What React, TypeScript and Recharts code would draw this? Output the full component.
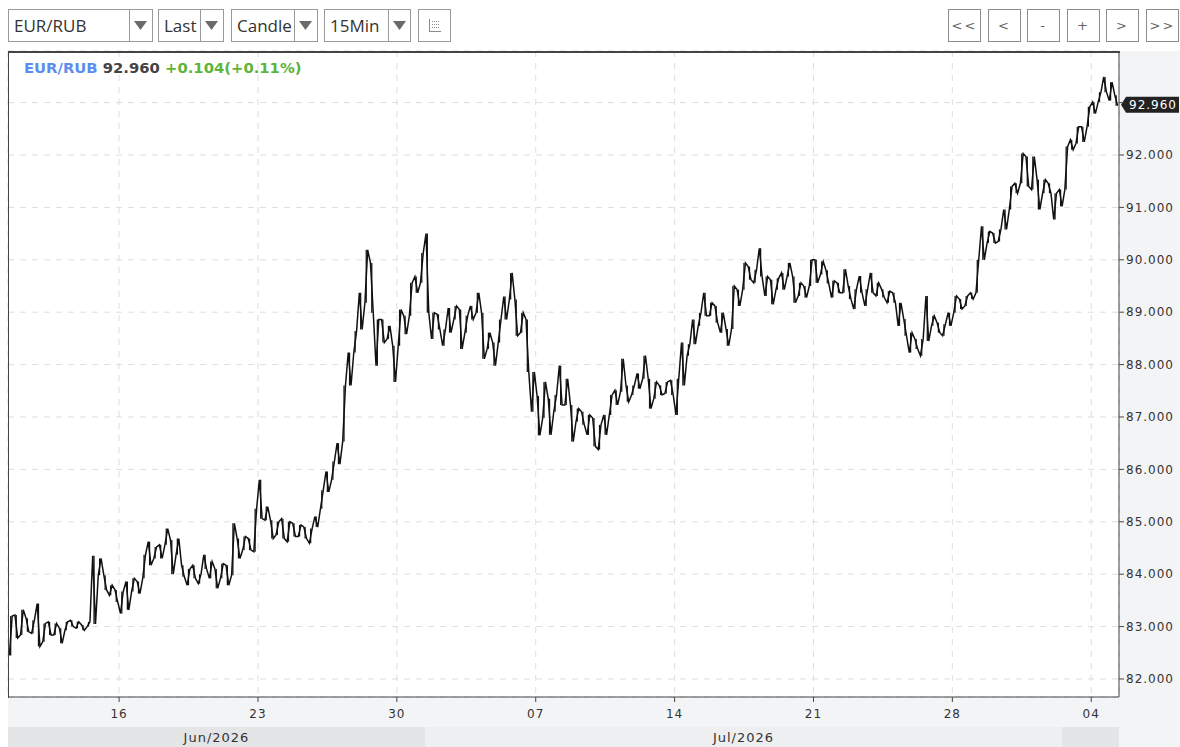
import React from 'react'
import {
  ComposedChart, Line, Bar, XAxis, YAxis, CartesianGrid, ReferenceLine,
} from 'recharts'

const highs = [
  83.2, 83.22, 83.32, 83.16, 83.12, 83.44, 83.06, 83.09, 83.06, 82.97,
  83.09, 83.12, 83.09, 83.03, 83.09, 84.35, 84.3, 83.98, 83.79, 83.7,
  83.67, 83.86, 83.92, 83.86, 84.37, 84.62, 84.52, 84.56, 84.87, 84.65,
  84.68, 84.17, 84.1, 84.17, 84.0, 84.37, 84.24, 84.1, 84.2, 84.17,
  84.97, 84.68, 84.72, 84.68, 85.25, 85.8, 85.29, 85.03, 85.0, 85.06,
  85.0, 84.97, 84.94, 84.9, 84.87, 85.1, 85.6, 85.96, 86.15, 86.5,
  87.6, 88.23, 88.64, 89.37, 90.19, 89.94, 88.86, 88.86, 88.74, 88.36,
  89.05, 88.93, 89.56, 89.68, 90.13, 90.5, 88.99, 88.96, 88.67, 89.08,
  89.12, 89.05, 88.93, 89.12, 89.37, 88.99, 88.61, 88.42, 88.86, 89.3,
  89.75, 89.24, 88.99, 88.86, 87.86, 87.4, 87.67, 87.35, 87.42, 87.98,
  87.73, 87.23, 87.16, 87.1, 87.04, 86.98, 86.85, 87.04, 87.42, 87.51,
  88.11, 87.6, 87.6, 87.83, 88.17, 87.73, 87.67, 87.6, 87.67, 87.7,
  87.73, 88.42, 88.39, 88.86, 88.99, 89.37, 89.18, 89.12, 88.99, 88.68,
  89.5, 89.43, 89.94, 89.87, 89.81, 90.22, 89.68, 89.62, 89.65, 89.75,
  89.94, 89.68, 89.56, 89.5, 90.0, 90.0, 89.97, 89.8, 89.6, 89.56,
  89.82, 89.5, 89.44, 89.69, 89.44, 89.75, 89.56, 89.44, 89.4, 89.37,
  89.18, 88.87, 88.61, 88.49, 88.49, 89.31, 88.93, 88.8, 88.77, 88.99,
  89.31, 89.25, 89.31, 89.37, 90.0, 90.64, 90.54, 90.51, 90.58, 90.96,
  91.4, 91.46, 92.03, 91.97, 91.97, 91.53, 91.53, 91.46, 91.27, 91.34,
  92.16, 92.29, 92.54, 92.54, 92.92, 93.01, 93.2, 93.49, 93.39, 93.14,
]
const lows = [
  82.45, 82.78, 82.84, 82.9, 82.87, 82.62, 82.71, 82.84, 82.84, 82.68,
  82.93, 83.0, 82.97, 82.93, 83.0, 83.05, 83.98, 83.7, 83.6, 83.47,
  83.25, 83.32, 83.67, 83.63, 83.92, 84.17, 84.3, 84.3, 84.56, 84.0,
  84.37, 83.95, 83.79, 83.92, 83.82, 84.1, 83.92, 83.73, 83.92, 83.79,
  83.98, 84.3, 84.46, 84.46, 84.43, 85.06, 85.03, 84.68, 84.75, 84.68,
  84.62, 84.72, 84.72, 84.68, 84.59, 84.9, 85.25, 85.57, 85.8, 86.1,
  86.53, 87.6, 88.23, 88.67, 89.18, 88.99, 87.98, 88.42, 88.49, 87.67,
  88.36, 88.58, 88.93, 89.37, 89.56, 88.99, 88.49, 88.67, 88.36, 88.61,
  88.86, 88.3, 88.61, 88.86, 88.99, 88.11, 88.3, 87.98, 88.42, 88.86,
  89.24, 88.55, 88.61, 87.86, 87.1, 86.65, 86.98, 86.66, 87.1, 87.23,
  87.23, 86.53, 86.91, 86.85, 86.66, 86.44, 86.38, 86.66, 87.04, 87.23,
  87.48, 87.29, 87.42, 87.54, 87.73, 87.16, 87.35, 87.42, 87.45, 87.42,
  87.04, 87.6, 88.17, 88.39, 88.74, 88.93, 88.93, 88.8, 88.61, 88.36,
  88.68, 89.12, 89.43, 89.62, 89.56, 89.68, 89.31, 89.15, 89.43, 89.43,
  89.68, 89.18, 89.31, 89.28, 89.5, 89.56, 89.72, 89.55, 89.28, 89.37,
  89.37, 89.25, 89.06, 89.37, 89.12, 89.37, 89.31, 89.28, 89.18, 89.18,
  88.74, 88.55, 88.23, 88.3, 88.17, 88.45, 88.74, 88.61, 88.55, 88.74,
  88.99, 89.06, 89.12, 89.25, 89.37, 90.0, 90.32, 90.32, 90.35, 90.58,
  90.96, 91.27, 91.46, 91.4, 91.34, 90.96, 91.27, 91.27, 90.77, 91.02,
  91.34, 92.1, 92.22, 92.25, 92.54, 92.79, 93.01, 93.2, 93.04, 92.94,
]

const dayTicks = [20, 45, 70, 95, 120, 145, 170, 195]
const dayLabels = ['16', '23', '30', '07', '14', '21', '28', '04']
const priceTicks = [82, 83, 84, 85, 86, 87, 88, 89, 90, 91, 92, 93]
const lastPrice = 92.96
const symbol = 'EUR/RUB'
const change = '+0.104(+0.11%)'

// one high-low range per bucket
const buckets = lows.map((lo, i) => ({ x: i + 0.5, range: [lo, highs[i]] }))

// each bucket also becomes two points (low/high, alternating) so the line looks like dense candles
const points = lows.flatMap((lo, i) => {
  const hi = highs[i]
  const a = i % 2 === 0 ? lo : hi
  const b = i % 2 === 0 ? hi : lo
  return [{ x: i + 0.25, v: a }, { x: i + 0.75, v: b }]
})

const months = [
  { label: 'Jun/2026', left: 8, width: 417, bg: '#e4e5e7' },
  { label: 'Jul/2026', left: 425, width: 637, bg: '#eeeff1' },
  { label: '', left: 1062, width: 57, bg: '#e4e5e7' },
]

const axisFont = { fontFamily: '"DejaVu Sans", sans-serif', fontSize: 12, fill: '#333', letterSpacing: 1 }

function Arrow({ x }: { x: number }) {
  return (
    <svg style={{ position: 'absolute', left: x, top: 11 }} width={14} height={10}>
      <polygon points="0,0 13,0 6.5,9" fill="#6a6a6a" />
    </svg>
  )
}

function SelectBox({ left, width, split, label }: { left: number; width: number; split: number; label: string }) {
  return (
    <div style={{
      position: 'absolute', left, top: 9, width, height: 33, boxSizing: 'border-box',
      border: '1px solid #9a9a9a', background: '#fff',
    }}>
      <div style={{
        position: 'absolute', left: 5, top: 0, lineHeight: '31px',
        fontFamily: '"Open Sans", sans-serif', fontSize: 17, color: '#333',
      }}>{label}</div>
      <div style={{ position: 'absolute', left: split, top: 0, width: 1, height: 31, background: '#9a9a9a' }} />
      <Arrow x={split + (width - split - 15) / 2} />
    </div>
  )
}

function NavButton({ left, text }: { left: number; text: string }) {
  return (
    <div style={{
      position: 'absolute', left, top: 9, width: 33, height: 33, boxSizing: 'border-box',
      border: '1px solid #8c8c8c', background: '#fff', textAlign: 'center', lineHeight: '31px',
      fontFamily: '"DejaVu Sans", sans-serif', fontSize: 13, color: '#666', letterSpacing: 2,
    }}>{text}</div>
  )
}

function PriceTag(props: any) {
  const { viewBox } = props
  const tipX = viewBox.x + viewBox.width + 2
  const y = viewBox.y
  return (
    <g>
      <path
        d={`M${tipX},${y} L${tipX + 5},${y - 8} L${tipX + 58},${y - 8} L${tipX + 58},${y + 8} L${tipX + 5},${y + 8} Z`}
        fill="#222"
      />
      <text x={tipX + 8} y={y + 4.5} fill="#fff" style={{ ...axisFont, fill: '#fff' }}>
        {lastPrice.toFixed(3)}
      </text>
    </g>
  )
}

export default function App() {
  return (
    <div style={{ position: 'absolute', left: 0, top: 0, width: 1180, height: 747, overflow: 'hidden', background: '#fff' }}>
      <SelectBox left={8} width={145} split={120} label="EUR/RUB" />
      <SelectBox left={158} width={66} split={41} label="Last" />
      <SelectBox left={231} width={87} split={62} label="Candle" />
      <SelectBox left={324} width={87} split={63} label="15Min" />
      <div style={{
        position: 'absolute', left: 418, top: 9, width: 33, height: 33, boxSizing: 'border-box',
        border: '1px solid #9a9a9a', background: '#fff',
      }}>
        <svg width={31} height={31}>
          <g stroke="#8a8a8a" strokeWidth={1}>
            <line x1={10.5} y1={9} x2={10.5} y2={22} />
            <line x1={10} y1={21.5} x2={22} y2={21.5} />
            <line x1={13} y1={11.5} x2={20} y2={11.5} strokeDasharray="1 1" />
            <line x1={13} y1={14.5} x2={20} y2={14.5} strokeDasharray="1 1" />
            <line x1={13} y1={17.5} x2={20} y2={17.5} strokeDasharray="1 1" />
          </g>
        </svg>
      </div>
      {['<<', '<', '-', '+', '>', '>>'].map((t, i) => (
        <NavButton key={t} left={[948, 988, 1027, 1067, 1106, 1146][i]} text={t} />
      ))}

      <div style={{ position: 'absolute', left: 8, top: 51, width: 1172, height: 696, background: '#f3f4f6' }} />
      {months.map((m) => (
        <div key={m.left} style={{
          position: 'absolute', left: m.left, top: 727, width: m.width, height: 20, background: m.bg,
          textAlign: 'center', lineHeight: '22px', fontFamily: '"DejaVu Sans", sans-serif',
          fontSize: 13, color: '#333', letterSpacing: 1,
        }}>{m.label}</div>
      ))}

      <div style={{ position: 'absolute', left: 0, top: 0 }}>
        <ComposedChart width={1180} height={747} data={buckets} margin={{ top: 51, right: 0, bottom: 20, left: 8 }}>
          <CartesianGrid fill="#fff" stroke="#dedede" strokeDasharray="6 6" />
          <XAxis
            type="number"
            dataKey="x"
            domain={[0, 200]}
            ticks={dayTicks}
            interval={0}
            tickFormatter={(v) => dayLabels[dayTicks.indexOf(v as number)] ?? ''}
            tick={axisFont}
            stroke="#444"
            tickSize={5}
            tickMargin={7}
            height={30}
            allowDataOverflow
          />
          <YAxis
            orientation="right"
            type="number"
            domain={[81.656, 93.985]}
            ticks={priceTicks}
            interval={0}
            tickFormatter={(v) => (v === 93 ? '' : (v as number).toFixed(3))}
            tick={axisFont}
            stroke="#444"
            tickSize={5}
            tickMargin={2}
            width={61}
            allowDataOverflow
          />
          <ReferenceLine y={lastPrice} stroke="none" label={<PriceTag />} />
          <Bar dataKey="range" fill="#111" barSize={3} isAnimationActive={false} />
          <Line
            data={points}
            type="linear"
            dataKey="v"
            stroke="#111"
            strokeWidth={1.5}
            dot={false}
            isAnimationActive={false}
          />
        </ComposedChart>
      </div>

      <div style={{
        position: 'absolute', left: 8, top: 51, width: 1112, height: 647, boxSizing: 'border-box',
        borderTop: '2px solid #444', borderLeft: '1px solid #444', pointerEvents: 'none',
      }} />
      <div style={{
        position: 'absolute', left: 24, top: 59, whiteSpace: 'nowrap',
        fontFamily: '"DejaVu Sans", sans-serif', fontWeight: 'bold', fontSize: 14.8,
      }}>
        <span style={{ color: '#5b8ef0' }}>{symbol}</span>{' '}
        <span style={{ color: '#444' }}>{lastPrice.toFixed(3)}</span>{' '}
        <span style={{ color: '#5db43a' }}>{change}</span>
      </div>
    </div>
  )
}
